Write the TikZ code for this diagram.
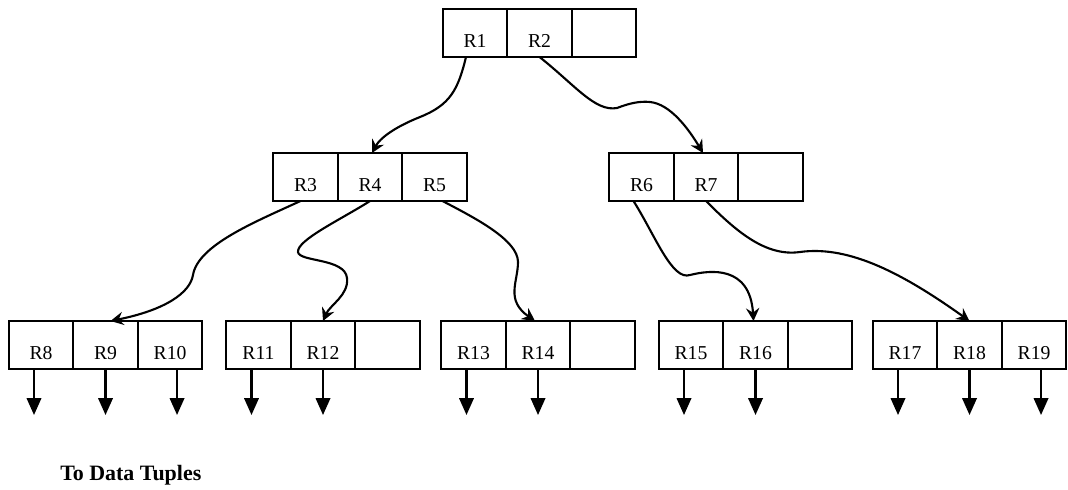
\documentclass[tikz,border=0pt]{standalone}
\usepackage{fontspec}
\setmainfont{Liberation Serif}
\usetikzlibrary{arrows.meta,positioning,calc}
\tikzset{
  cell/.style = {draw, line width=1.3pt, minimum width=1.6125cm, minimum height=1.2cm,
                 inner sep=0pt, outer sep=0pt, text height=0.7cm, text depth=0cm,
                 font=\fontsize{14}{16}\selectfont},
  ar/.style   = {-{Stealth[length=3.2mm,width=3.3mm,inset=1.1mm]}, line width=1.5pt},
  dn/.style   = {-{Triangle[length=4.2mm,width=3.6mm]}, line width=1.5pt},
  lbl/.style  = {font=\fontsize{15.6}{18}\selectfont\bfseries, inner sep=0pt}
}

\begin{document}
\begin{tikzpicture}[x=0.025cm, y=-0.025cm]
\useasboundingbox (0,0) rectangle (1068,489);

% ---------------- root ----------------
\node[cell] (r1) at (475,33) {R1};
\node[cell, right=0pt of r1] (r2) {R2};
\node[cell, right=0pt of r2] (blank1) {};

% ---------------- second level ----------------
\node[cell] (r3) at (305.5,177) {R3};
\node[cell, right=0pt of r3] (r4) {R4};
\node[cell, right=0pt of r4] (r5) {R5};

\node[cell] (r6) at (641.5,177) {R6};
\node[cell, right=0pt of r6] (r7) {R7};
\node[cell, right=0pt of r7] (blank2) {};

% ---------------- leaves ----------------
\node[cell] (r8) at (41,345) {R8};
\node[cell, right=0pt of r8] (r9) {R9};
\node[cell, right=0pt of r9] (r10) {R10};

\node[cell] (r11) at (258.5,345) {R11};
\node[cell, right=0pt of r11] (r12) {R12};
\node[cell, right=0pt of r12] (blank3) {};

\node[cell] (r13) at (473.5,345) {R13};
\node[cell, right=0pt of r13] (r14) {R14};
\node[cell, right=0pt of r14] (blank4) {};

\node[cell] (r15) at (691,345) {R15};
\node[cell, right=0pt of r15] (r16) {R16};
\node[cell, right=0pt of r16] (blank5) {};

\node[cell] (r17) at (905,345) {R17};
\node[cell, right=0pt of r17] (r18) {R18};
\node[cell, right=0pt of r18] (r19) {R19};

% ---------------- pointers ----------------
\draw[ar] ($(r1.south)+(-9,0)$) .. controls (458,90) and (450,105) .. (420,117)
          .. controls (395,127) and (380,138) .. ($(r4.north)+(2,0)$);
\draw[ar] (r2.south) .. controls (575,85) and (595,112) .. (617,108)
          .. controls (630,103) and (640,101) .. (650,102)
          .. controls (670,104) and (688,128) .. ($(r7.north)+(-3,0)$);
\draw[ar] ($(r3.south)+(-5,0)$) .. controls (255,222) and (198,245) .. (193,275)
          .. controls (190,293) and (165,310) .. ($(r9.north)+(5,0)$);
\draw[ar] (r4.south) .. controls (340,220) and (297,240) .. (298,252)
          .. controls (299,262) and (345,258) .. (347,278)
          .. controls (349,295) and (330,305) .. (r12.north);
\draw[ar] ($(r5.south)+(8,0)$) .. controls (475,218) and (518,240) .. (518,262)
          .. controls (518,282) and (505,300) .. ($(r14.north)+(-3,0)$);
\draw[ar] ($(r6.south)+(-8,0)$) .. controls (655,235) and (672,281) .. (690,275)
          .. controls (710,270) and (750,265) .. ($(r16.north)+(-2,0)$);
\draw[ar] (r7.south) .. controls (735,230) and (765,257) .. (800,252)
          .. controls (850,245) and (905,275) .. (r18.north);

% to the data tuples
\foreach \c/\dx in {r8/-7, r9/0, r10/7, r11/-7, r12/0, r13/-7, r14/0,
                    r15/-7, r16/0, r17/-7, r18/0, r19/7}
  \draw[dn] ($(\c.south)+(\dx,0)$) -- ++(0,46);

\node[lbl, anchor=base west] (tuples) at (60,480) {To Data Tuples};

\end{tikzpicture}
\end{document}
